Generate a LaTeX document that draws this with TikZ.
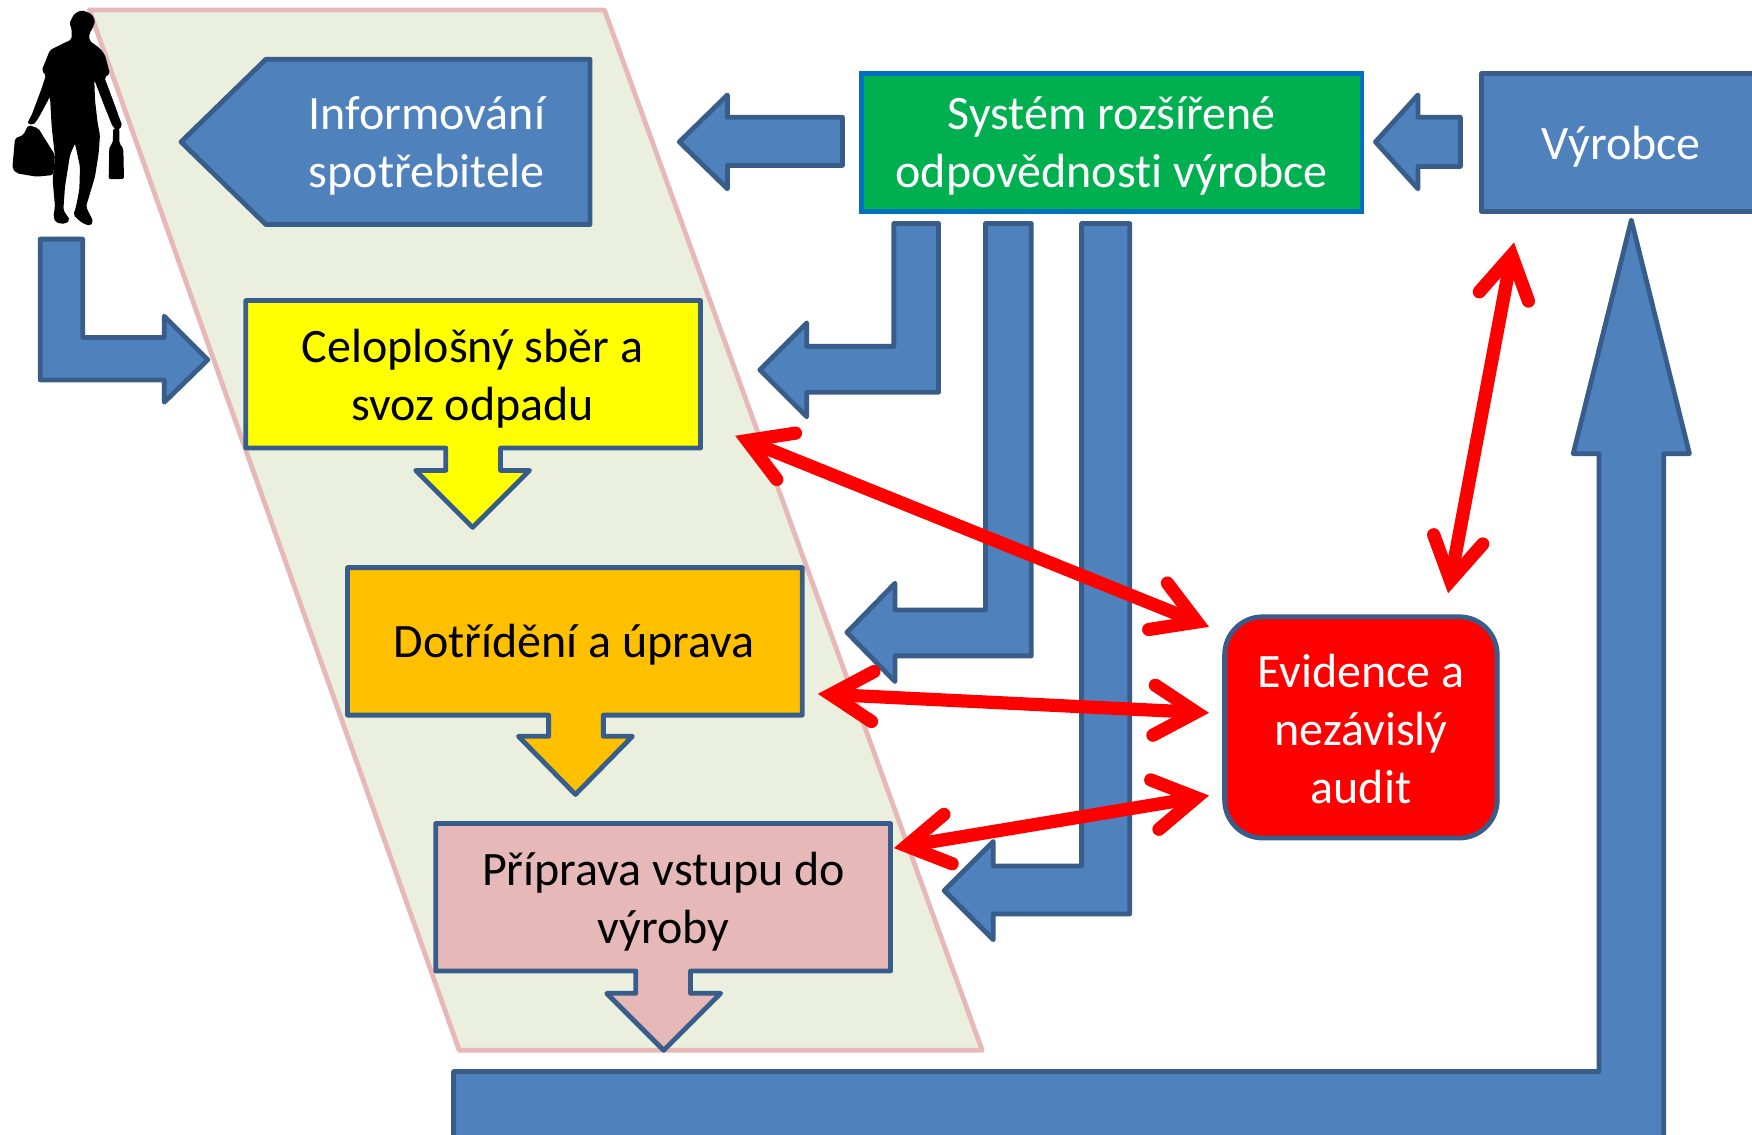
\documentclass[tikz,border=0pt]{standalone}
\usepackage{fontspec}
\setmainfont{Carlito}[Ligatures=NoCommon]
\usetikzlibrary{arrows.meta}
\definecolor{blueF}{HTML}{4F81BD}
\definecolor{blueS}{HTML}{385D8A}
\definecolor{zoneF}{HTML}{EBF0DE}
\definecolor{pinkF}{HTML}{E6B8B7}
\definecolor{greenF}{HTML}{00B050}
\definecolor{greenS}{HTML}{0070C0}
\definecolor{orangeF}{HTML}{FFC000}
\definecolor{yellowF}{HTML}{FFFF00}
\definecolor{redF}{HTML}{FF0000}
\tikzset{
  zone/.style={fill=zoneF,draw=pinkF,line width=2.4pt,line join=round},
  blockshape/.style={draw=blueS,line width=2.4pt,line join=round},
  bluearrow/.style={blockshape,fill=blueF},
  label/.style={font=\fontsize{24}{29}\selectfont,align=center,inner sep=0pt},
  whitelabel/.style={label,text=white},
  audit/.style={<->,>={Straight Barb[length=21pt,width=25pt,line cap=round,line join=miter]},draw=redF,line width=6.6pt},
  silhouette/.style={fill=black,rounded corners=1pt}
}
\begin{document}
\begin{tikzpicture}[x=0.5587pt,y=-0.5587pt]
\clip (0,0) rectangle (1568,1014.9);
\fill[white] (0,0) rectangle (1568,1014.9);
% zone
\draw[zone] (80,9) -- (541,9) -- (879,940) -- (411,940) -- cycle;
% person
\begin{scope}[x=0.16667pt,y=-0.16667pt]
\fill[silhouette] (222,42)--(245,30)--(275,42)--(286,62)--(278,85)--(268,100)--(268,122)--(300,145)--(315,165)--(330,222)--(313,232)--(335,290)--(367,378)--(352,392)--(338,380)--(310,310)--(283,240)--(285,300)--(293,370)--(300,405)--(296,460)--(285,530)--(258,620)--(280,665)--(270,678)--(245,668)--(220,645)--(228,620)--(238,570)--(240,500)--(225,430)--(210,465)--(195,560)--(190,630)--(210,660)--(195,672)--(168,668)--(160,650)--(165,620)--(158,540)--(165,470)--(155,380)--(150,290)--(115,355)--(100,375)--(82,370)--(95,345)--(125,265)--(138,225)--(125,212)--(150,150)--(215,118)--(215,85)--(208,70)--cycle;
\fill[silhouette] (85,375)--(115,385)--(165,465)--(160,525)--(110,530)--(50,520)--(37,505)--(45,415)--(70,405)--cycle;
\fill[silhouette] (340,385)--(358,385)--(358,430)--(370,445)--(372,537)--(326,537)--(328,440)--(338,430)--cycle;
\end{scope}
% person arrow
\draw[bluearrow] (36,214)--(74,214)--(74,302)--(147,302)--(147,283)--(186,322)--(147,360)--(147,340)--(36,340)--cycle;
% big return arrow
\draw[bluearrow] (406,1040)--(406,959)--(1431,959)--(1431,406)--(1408,406)--(1460,197)--(1512,406)--(1489,406)--(1489,1040)--cycle;
% informing
\draw[bluearrow] (162,127)--(238,53)--(528,53)--(528,201)--(238,201)--cycle;
\node[whitelabel] (info) at (382,131) {Informování\\spotřebitele};
\draw[bluearrow] (608,127)--(651,85)--(651,105)--(754,105)--(754,148)--(651,148)--(651,169)--cycle;
% top boxes
\draw[fill=greenF,draw=greenS,line width=2.4pt] (771,66) rectangle (1219,189);
\node[whitelabel] (system) at (995,131) {Systém rozšířené\\odpovědnosti výrobce};
\draw[bluearrow] (1231,127)--(1269,85)--(1269,105)--(1307,105)--(1307,149)--(1269,149)--(1269,169)--cycle;
\draw[bluearrow] (1326,66) rectangle (1600,189);
\node[whitelabel] (maker) at (1451,131) {Výrobce};
% bent arrows
\draw[bluearrow] (800,200)--(840,200)--(840,351)--(722,351)--(722,373)--(680,331)--(722,289)--(722,310)--(800,310)--cycle;
\draw[bluearrow] (882,200)--(923,200)--(923,587)--(801,587)--(801,610)--(758,566)--(801,522)--(801,546)--(882,546)--cycle;
\draw[bluearrow] (968,200)--(1011,200)--(1011,818)--(889,818)--(889,841)--(845,797)--(889,753)--(889,775)--(968,775)--cycle;
% process callouts
\draw[blockshape,fill=yellowF] (220,269)--(627,269)--(627,401)--(448,401)--(448,421)--(474,421)--(423,472)--(372,421)--(399,421)--(399,401)--(220,401)--cycle;
\node[label] (collect) at (423,339) {Celoplošný sběr a\\svoz odpadu};
\draw[blockshape,fill=orangeF] (311,508)--(718,508)--(718,640)--(540,640)--(540,659)--(566,659)--(515,711)--(464,659)--(491,659)--(491,640)--(311,640)--cycle;
\node[label] (sort) at (514,577) {Dotřídění a úprava};
\draw[blockshape,fill=pinkF] (390,737)--(797,737)--(797,869)--(618,869)--(618,889)--(645,889)--(594,940)--(543,889)--(569,889)--(569,869)--(390,869)--cycle;
\node[label] (prep) at (594,807) {Příprava vstupu do\\výroby};
% audit box
\draw[blockshape,fill=redF,rounded corners=19pt] (1096,552) rectangle (1340,750);
\node[whitelabel] (evid) at (1218,652) {Evidence a\\nezávislý\\audit};
% red connectors
\coordinate (a1) at (658,390); \coordinate (b1) at (1082,561);
\coordinate (a2) at (732,621); \coordinate (b2) at (1082,638);
\coordinate (a3) at (800,759); \coordinate (b3) at (1082,712);
\coordinate (a4) at (1355,217); \coordinate (b4) at (1296,531);
\draw[audit] (a1) -- (b1);
\draw[audit] (a2) -- (b2);
\draw[audit] (a3) -- (b3);
\draw[audit] (a4) -- (b4);
\end{tikzpicture}
\end{document}
